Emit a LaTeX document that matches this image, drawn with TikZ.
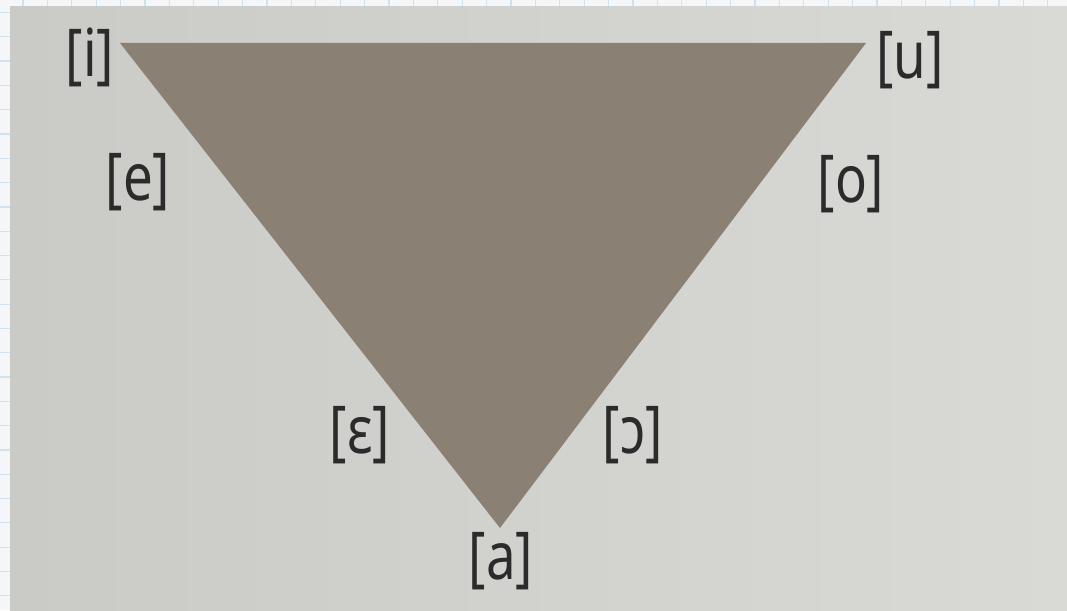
\documentclass[tikz,border=0pt]{standalone}
\usepackage{fontspec}
\setmainfont{Noto Sans}
\usetikzlibrary{calc}
\definecolor{paper}{HTML}{F4F6F8}
\definecolor{gridblue}{HTML}{CFE2F0}
\definecolor{photoL}{HTML}{CACBC6}
\definecolor{photoR}{HTML}{D9D9D5}
\definecolor{tri}{HTML}{8B8074}
\definecolor{ink}{HTML}{2B2B2B}
\tikzset{
  vowel/.style={text=ink, inner sep=0pt, font=\fontsize{66}{66}\selectfont},
}
\newcommand{\vw}[1]{\scalebox{0.8}[1]{[#1]}}
\begin{document}
\begin{tikzpicture}[x=1pt,y=-1pt]
\useasboundingbox (0,0) rectangle (1067,610);
\fill[paper] (0,0) rectangle (1067,610);
\foreach \i in {0,...,43} {\draw[gridblue, line width=1.2pt] ({23+24.4*\i},0) -- ({23+24.4*\i},610);}
\foreach \j in {0,...,25} {\draw[gridblue, line width=1.2pt] (0,{12.5+24.3*\j}) -- (1067,{12.5+24.3*\j});}
\shade[left color=photoL, right color=photoR] (10,7) rectangle (1067,610);
\coordinate (I) at (120,43);
\coordinate (U) at (866,43);
\coordinate (A) at (500,528);
\fill[tri] (I) -- (U) -- (A) -- cycle;
\node[vowel] (li) at (90,57) {\vw{i}};
\node[vowel] (le) at (138,182) {\vw{e}};
\node[vowel] (lu) at (910,60) {\vw{u}};
\node[vowel] (lo) at (851,184) {\vw{o}};
\node[vowel] (leps) at (360,435) {\vw{ɛ}};
\node[vowel] (lopn) at (633,435) {\vw{ɔ}};
\node[vowel] (la) at (501,561) {\vw{a}};
\end{tikzpicture}
\end{document}
